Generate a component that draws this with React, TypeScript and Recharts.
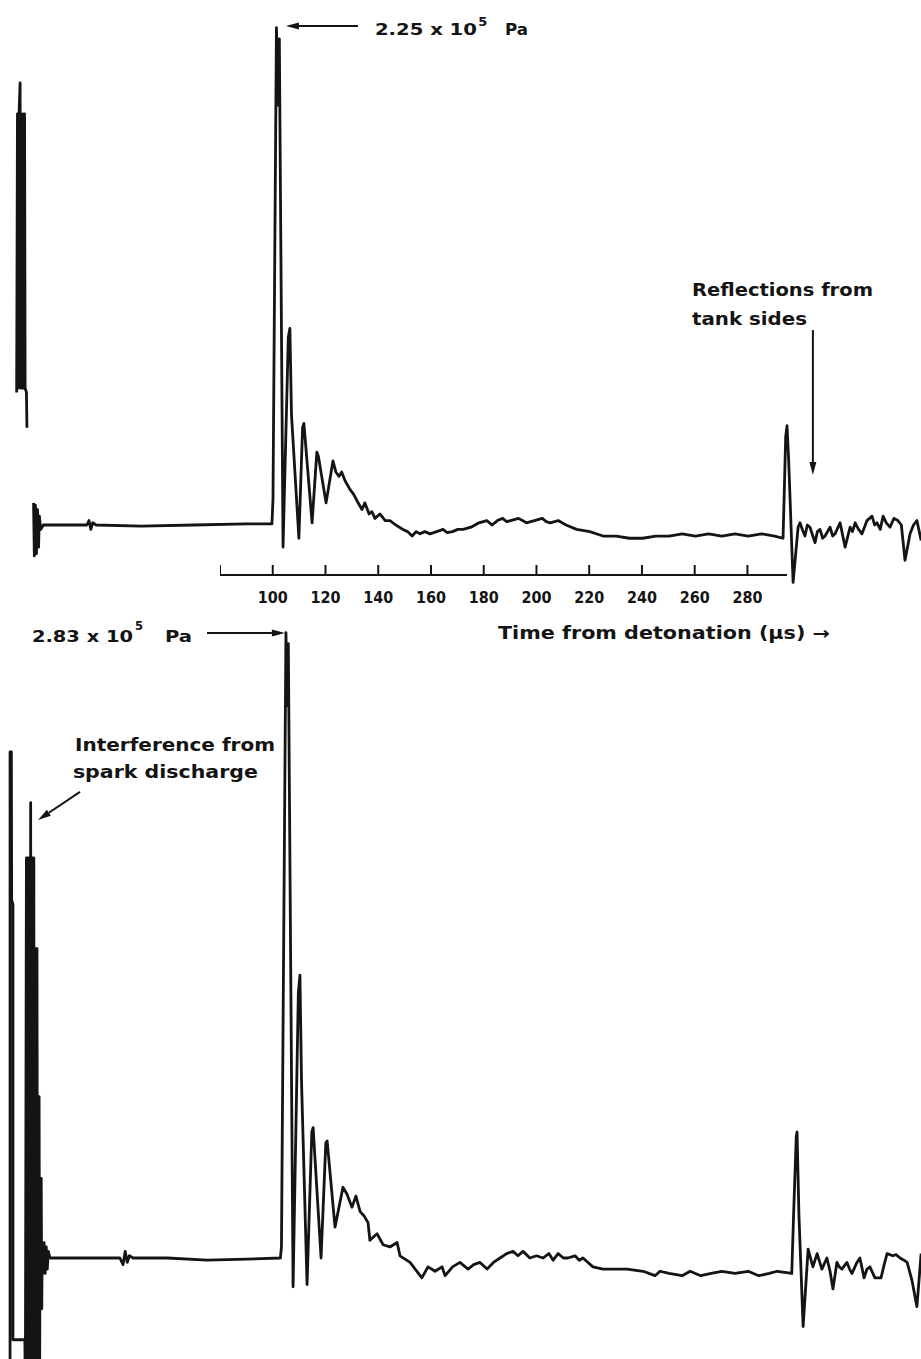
import React from 'react';
import { LineChart, Line, XAxis, YAxis, ReferenceLine, ReferenceDot } from 'recharts';

const ink = '#141414';
const font = '"DejaVu Sans", Verdana, sans-serif';

// time in µs, pressure in 10^5 Pa; null = break in the trace
const upperTrace: [number, number | null][] = [
  [2.9, 0.6], [3.2, 1.86], [3.5, 0.62], [3.8, 1.86], [4.2, 2.0], [4.4, 0.62], [4.7, 1.86], [5.0, 0.62],
  [5.3, 1.86], [5.6, 0.62], [5.9, 1.86], [6.1, 0.62], [6.6, 0.6], [6.8, 0.44], [8.0, null],
  [9.3, 0.1], [9.6, -0.14], [10.0, 0.09], [10.4, -0.13], [10.8, 0.07], [11.2, -0.1], [11.5, 0.04], [12.0, -0.02],
  [13, 0], [20, 0], [29.5, 0], [30.3, 0.02], [31.0, -0.02], [31.7, 0.01], [33, 0], [50, -0.005], [70, 0],
  [90, 0.005], [99.6, 0.005], [100.0, 0.12], [101.3, 2.25], [102.0, 1.9], [102.4, 2.2], [103.8, -0.1],
  [105.8, 0.85], [106.4, 0.89], [107.0, 0.5], [109.8, -0.06], [111.2, 0.44], [111.7, 0.46], [114.8, 0.01],
  [116.6, 0.33], [117.2, 0.31], [120.1, 0.1], [122.7, 0.29], [123.8, 0.24], [125.0, 0.22], [126.0, 0.24],
  [127.3, 0.2], [129.2, 0.16], [130.5, 0.14], [131.8, 0.11], [133.7, 0.07], [134.8, 0.1], [136.4, 0.05],
  [137.5, 0.06], [138.6, 0.03], [140.5, 0.05], [142.5, 0.02], [144.3, 0.02], [146.5, 0], [149.2, -0.02],
  [151, -0.03], [152.7, -0.05], [154.2, -0.03], [155.7, -0.04], [157.5, -0.03], [159.5, -0.04], [162, -0.03],
  [164.4, -0.02], [166, -0.035], [168, -0.03], [170, -0.02], [172, -0.02], [175, -0.01], [178, 0.01],
  [181, 0.02], [183, 0], [185, 0.02], [187, 0.03], [188.5, 0.015], [190, 0.02], [193, 0.03], [196, 0.01],
  [199, 0.02], [202, 0.03], [203.5, 0.015], [205, 0.01], [208, 0.02], [211, 0], [215, -0.02], [220, -0.03],
  [225, -0.05], [230, -0.05], [235, -0.06], [240, -0.06], [245, -0.05], [250, -0.05], [255, -0.04],
  [260, -0.05], [265, -0.04], [270, -0.05], [275, -0.04], [280, -0.05], [285, -0.04], [290, -0.05],
  [293.2, -0.06], [294.2, 0.4], [294.7, 0.45], [295.3, 0.3], [297.0, -0.26], [298.9, -0.01], [299.6, 0.01],
  [300.5, -0.02], [301.5, -0.05], [302.4, 0.0], [303.4, -0.01], [305.3, -0.08], [306.2, -0.03], [307.2, -0.02],
  [308.2, -0.06], [309.1, -0.05], [311.0, -0.01], [312.0, -0.05], [312.9, -0.04], [314.8, 0.01], [316.7, -0.1],
  [318.6, -0.01], [319.5, -0.03], [320.5, 0.01], [321.8, -0.02], [323.1, -0.04], [325.0, 0.02], [326.9, 0.04],
  [327.9, 0.0], [328.8, 0.01], [330.0, -0.02], [331.1, 0.04], [332.3, 0.01], [333.7, -0.01], [335.2, 0.03],
  [336.7, 0.02], [338.0, 0.0], [339.4, -0.16], [341.3, -0.04], [342.6, 0.0], [343.9, 0.02], [345.5, -0.07],
];

const lowerTrace: [number, number | null][] = [
  [0.4, -0.6], [0.4, 2.29], [0.9, 2.29], [1.0, 1.62], [1.5, 1.6], [1.5, -0.37], [6.0, -0.37], [6.2, -0.6],
  [6.6, 1.81], [6.8, -0.6], [7.0, 1.81], [7.2, -0.6], [7.4, 1.81], [7.6, -0.6], [7.8, 1.81], [8.0, -0.6],
  [8.2, 2.06], [8.4, -0.6], [8.6, 1.81], [8.8, -0.6], [9.0, 1.81], [9.2, -0.6], [9.4, 1.81], [9.6, -0.6],
  [9.8, 1.4], [10.0, -0.6], [10.2, 1.4], [10.4, -0.6], [10.6, 1.4], [10.8, -0.6], [11.0, 0.73], [11.2, -0.6],
  [11.4, 0.73], [11.6, -0.6], [11.8, 0.36], [12.0, -0.23], [12.2, 0.36], [12.4, -0.23], [12.6, 0.07],
  [12.9, -0.07], [13.3, 0.07], [13.7, -0.07], [14.1, 0.05], [14.5, -0.05], [14.9, 0.03], [15.5, 0], [20, 0],
  [30, 0], [42, 0], [43.2, -0.03], [44.0, 0.03], [44.8, -0.02], [45.6, 0.01], [47, 0], [60, 0], [75, -0.01],
  [90, -0.005], [102.8, 0], [103.2, 0.05], [104.9, 2.83], [105.4, 2.5], [105.8, 2.78], [107.6, -0.13],
  [109.6, 1.2], [110.2, 1.28], [110.8, 0.8], [112.9, -0.12], [114.7, 0.57], [115.2, 0.59], [118.2, 0],
  [120.0, 0.52], [120.5, 0.53], [123.5, 0.14], [126.5, 0.32], [128.0, 0.29], [129.9, 0.23], [131.4, 0.28],
  [133.0, 0.21], [134.5, 0.19], [136.0, 0.16], [136.7, 0.08], [139.4, 0.11], [141.7, 0.06], [144.3, 0.05],
  [147.0, 0.07], [148.1, 0.01], [151.9, -0.02], [156.4, -0.09], [158.7, -0.04], [161.4, -0.06], [164.0, -0.04],
  [165.2, -0.08], [168, -0.04], [170.8, -0.02], [173.9, -0.05], [176, -0.03], [178.4, -0.02], [181.1, -0.05],
  [183.5, -0.02], [186.0, 0], [188.5, 0.02], [190.9, 0.03], [192.8, 0.01], [194.7, 0.03], [197.3, 0],
  [199.8, 0.01], [202.3, 0], [204.5, 0.02], [206.1, -0.01], [208.0, 0.02], [210, 0], [211.7, 0], [214.4, 0.01],
  [216, -0.01], [217.4, 0], [221.2, -0.04], [225.0, -0.05], [234.1, -0.05], [240.2, -0.06], [244.7, -0.08],
  [246.6, -0.06], [250, -0.07], [255, -0.08], [258, -0.06], [262, -0.08], [266, -0.07], [270, -0.06],
  [275, -0.07], [280, -0.06], [284, -0.08], [288, -0.07], [291, -0.06], [296.5, -0.07], [297.2, 0.2],
  [298.2, 0.55], [298.5, 0.57], [299.2, 0.2], [300.8, -0.31], [302.7, 0.04], [303.6, 0.0], [304.5, -0.04],
  [306.1, 0.02], [307.9, -0.05], [309.8, 0], [311.0, -0.06], [312.1, -0.14], [313.6, -0.02], [314.5, -0.04],
  [315.5, -0.05], [317.4, -0.02], [318.4, -0.05], [319.3, -0.07], [321.2, -0.02], [322.3, 0], [323.9, -0.09],
  [325.0, -0.05], [326.1, -0.04], [328.0, -0.09], [330.3, -0.09], [331.5, -0.03], [332.6, 0.02], [334.8, 0.01],
  [336.0, 0.015], [337.5, 0], [339.0, -0.01], [340.2, -0.02], [342.0, -0.1], [343.9, -0.22], [345.5, 0.02],
];

const axisTicks = [80, 100, 120, 140, 160, 180, 200, 220, 240, 260, 280];
const axisDomain = [80, 295];
const timeDomain = [-3.41, 345.45];

// annotation text: position (µs, 10^5 Pa), rendered width
const upperNotes = [
  { t: 138.6, p: 2.217, text: '2.25 x 10', width: 102, size: 16 },
  { t: 177.7, p: 2.26, text: '5', width: 9, size: 13 },
  { t: 187.9, p: 2.217, text: 'Pa', width: 23, size: 16 },
  { t: 258.7, p: 1.036, text: 'Reflections from', width: 181, size: 17 },
  { t: 258.7, p: 0.905, text: 'tank sides', width: 115, size: 17 },
  { t: 185.2, p: -0.516, text: 'Time from detonation (µs) →', width: 332, size: 17 },
];
const upperArrows = [
  { from: [132.2, 2.258], to: [104.9, 2.258] },
  { from: [304.5, 0.882], to: [304.5, 0.226] },
];

const lowerNotes = [
  { t: 8.7, p: 2.787, text: '2.83 x 10', width: 101, size: 16 },
  { t: 47.7, p: 2.842, text: '5', width: 8, size: 13 },
  { t: 59.1, p: 2.787, text: 'Pa', width: 27, size: 16 },
  { t: 25.0, p: 2.294, text: 'Interference from', width: 200, size: 17 },
  { t: 24.2, p: 2.172, text: 'spark discharge', width: 185, size: 17 },
];
const lowerArrows = [
  { from: [75.0, 2.828], to: [104.5, 2.828] },
  { from: [26.9, 2.109], to: [11.0, 1.982] },
];

const toRows = (trace: [number, number | null][]) => trace.map(([t, p]) => ({ t, p }));

const Arrow = (props: any) => {
  const { x1, y1, x2, y2 } = props;
  const a = Math.atan2(y2 - y1, x2 - x1);
  const len = 13, half = 3.5;
  const bx = x2 - len * Math.cos(a), by = y2 - len * Math.sin(a);
  const pts = `${x2},${y2} ${bx + half * Math.sin(a)},${by - half * Math.cos(a)} ${bx - half * Math.sin(a)},${by + half * Math.cos(a)}`;
  return (
    <g>
      <line x1={x1} y1={y1} x2={bx} y2={by} stroke={ink} strokeWidth={2} />
      <polygon points={pts} fill={ink} />
    </g>
  );
};

const noteShape = (n: any) => (props: any) => (
  <text x={props.cx} y={props.cy} fontFamily={font} fontWeight="bold" fontSize={n.size} fill={ink}
    textLength={n.width} lengthAdjust="spacingAndGlyphs">{n.text}</text>
);

const AxisTick = (props: any) => {
  const { x, y, payload } = props;
  return (
    <g>
      <line x1={x} y1={y} x2={x} y2={y - 10} stroke={ink} strokeWidth={2} />
      {payload.value >= 100 && (
        <text x={x} y={y + 28} textAnchor="middle" fontFamily={font} fontWeight="bold" fontSize={16}
          fill={ink} textLength={30} lengthAdjust="spacingAndGlyphs">{payload.value}</text>
      )}
    </g>
  );
};

const Trace = ({ trace, height, yDomain, notes, arrows }: any) => (
  <LineChart width={921} height={height} data={toRows(trace)} margin={{ top: 0, right: 0, bottom: 0, left: 0 }}>
    <XAxis dataKey="t" type="number" domain={timeDomain} allowDataOverflow hide />
    <YAxis type="number" domain={yDomain} allowDataOverflow hide />
    <Line dataKey="p" stroke={ink} strokeWidth={2.8} dot={false} activeDot={false}
      isAnimationActive={false} strokeLinejoin="round" />
    {arrows.map((a: any, i: number) => (
      <ReferenceLine key={'a' + i} segment={[{ x: a.from[0], y: a.from[1] }, { x: a.to[0], y: a.to[1] }]}
        ifOverflow="visible" shape={Arrow} />
    ))}
    {notes.map((n: any, i: number) => (
      <ReferenceDot key={'n' + i} x={n.t} y={n.p} r={0} ifOverflow="visible" shape={noteShape(n)} />
    ))}
  </LineChart>
);

export default function App() {
  return (
    <div style={{ position: 'absolute', left: 0, top: 0, width: 921, height: 1359, background: '#fff', overflow: 'hidden' }}>
      <div style={{ position: 'absolute', left: 0, top: 0 }}>
        <Trace trace={upperTrace} height={660} yDomain={[-0.6109, 2.3756]} notes={upperNotes} arrows={upperArrows} />
      </div>
      <div style={{ position: 'absolute', left: 220, top: 545 }}>
        <LineChart width={701} height={100} data={axisTicks.map(t => ({ t }))} margin={{ top: 0, right: 134, bottom: 0, left: 0 }}>
          <XAxis dataKey="t" type="number" domain={axisDomain} ticks={axisTicks} interval={0} allowDataOverflow
            height={70} tickLine={false} tickSize={0} tickMargin={0}
            axisLine={{ stroke: ink, strokeWidth: 2 }} tick={<AxisTick />} />
          <YAxis hide />
        </LineChart>
      </div>
      <div style={{ position: 'absolute', left: 0, top: 600 }}>
        <Trace trace={lowerTrace} height={759} yDomain={[-0.457, 2.9774]} notes={lowerNotes} arrows={lowerArrows} />
      </div>
    </div>
  );
}
